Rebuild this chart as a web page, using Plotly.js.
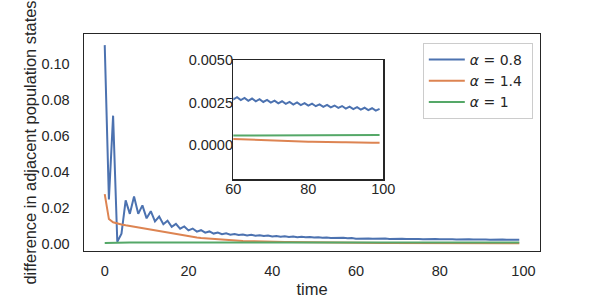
<!DOCTYPE html>
<html>
<head>
<meta charset="utf-8">
<script src="https://cdn.plot.ly/plotly-3.0.1.min.js"></script>
<style>html,body{margin:0;padding:0;background:#fff;}#chart{width:600px;height:298px;}</style>
</head>
<body>
<div id="chart"></div>
<script>
// time steps
const time = [0,1,2,3,4,5,6,7,8,9,10,11,12,13,14,15,16,17,18,19,20,21,22,23,24,25,26,27,28,29,30,31,32,33,34,35,36,37,38,39,40,41,42,43,44,45,46,47,48,49,50,51,52,53,54,55,56,57,58,59,60,61,62,63,64,65,66,67,68,69,70,71,72,73,74,75,76,77,78,79,80,81,82,83,84,85,86,87,88,89,90,91,92,93,94,95,96,97,98,99];

// alpha = 0.8
const alpha08 = [0.1105,0.0245,0.0712,0.0010,0.0055,0.0240,0.0165,0.0262,0.0165,0.0212,
0.0140,0.0180,0.0123,0.0150,0.0107,0.0127,0.0093,0.0109,0.0082,0.0095,
0.0073,0.0083,0.0066,0.0074,0.0060,0.0067,0.0055,0.0061,0.0052,0.0057,
0.0049,0.0053,0.0047,0.0050,0.0045,0.0048,0.0043,0.0046,0.0041,0.0044,
0.00388,0.00410,0.00376,0.00396,0.00364,0.00382,0.00352,0.00370,0.00340,0.00358,
0.00329,0.00346,0.00318,0.00335,0.00308,0.00324,0.00298,0.00314,0.00289,0.00303,
0.00269,0.00282,0.00265,0.00278,0.00261,0.00274,0.00258,0.00270,0.00254,0.00266,
0.00250,0.00262,0.00246,0.00258,0.00243,0.00254,0.00239,0.00251,0.00236,0.00247,
0.00232,0.00244,0.00229,0.00240,0.00225,0.00237,0.00222,0.00233,0.00219,0.00230,
0.00215,0.00227,0.00212,0.00223,0.00209,0.00220,0.00206,0.00217,0.00203,0.00213];

// alpha = 1.4
const alpha14 = [0.0275,0.0136,0.0118,0.0110,0.0106,0.0101,0.0097,0.0093,0.0089,0.0085,
0.0081,0.0076,0.0071,0.0066,0.0061,0.0057,0.0053,0.0049,0.0045,0.0042,
0.0039,0.0036,0.0033,0.0030,0.0028,0.0026,0.0024,0.0022,0.0020,0.0019,
0.0017,0.0016,0.0015,0.0014,0.0013,0.0012,0.00115,0.0011,0.00104,0.00098,
0.00093,0.00089,0.00084,0.00080,0.00076,0.00072,0.00069,0.00066,0.00063,0.00060,
0.00057,0.00055,0.00052,0.00050,0.00048,0.00046,0.00044,0.00042,0.00040,0.00038,
0.00037,0.00036,0.00035,0.00034,0.00033,0.00032,0.00031,0.00030,0.00029,0.00028,
0.00028,0.00027,0.00026,0.00025,0.00025,0.00024,0.00023,0.00023,0.00022,0.00022,
0.00021,0.00021,0.00020,0.00020,0.00019,0.00019,0.00018,0.00018,0.00018,0.00017,
0.00017,0.00016,0.00016,0.00016,0.00015,0.00015,0.00015,0.00014,0.00014,0.00014];

// alpha = 1
const alpha1 = [0.00030,0.00040,0.00045,0.00048,0.00050,0.00050,0.00050,0.00051,0.00051,0.00051,
0.00051,0.00052,0.00052,0.00052,0.00052,0.00052,0.00052,0.00053,0.00053,0.00053,
0.00053,0.00053,0.00053,0.00053,0.00054,0.00054,0.00054,0.00054,0.00054,0.00054,
0.00054,0.00054,0.00055,0.00055,0.00055,0.00055,0.00055,0.00055,0.00055,0.00055,
0.00055,0.00055,0.00055,0.00056,0.00056,0.00056,0.00056,0.00056,0.00056,0.00056,
0.00056,0.00056,0.00056,0.00056,0.00056,0.00056,0.00057,0.00057,0.00057,0.00057,
0.00057,0.00057,0.00057,0.00057,0.00057,0.00057,0.00058,0.00058,0.00058,0.00058,
0.00058,0.00058,0.00058,0.00058,0.00058,0.00058,0.00059,0.00059,0.00059,0.00059,
0.00059,0.00059,0.00059,0.00059,0.00059,0.00059,0.00060,0.00060,0.00060,0.00060,
0.00060,0.00060,0.00060,0.00060,0.00060,0.00060,0.00060,0.00060,0.00060,0.00060];

const seriesNames = ['<i>α</i> = 0.8&nbsp;', '<i>α</i> = 1.4&nbsp;', '<i>α</i> = 1&nbsp;'];
const mainXTicks = [0, 20, 40, 60, 80, 100];
const mainYTicks = [0, 0.02, 0.04, 0.06, 0.08, 0.10];
const insetXTicks = [60, 80, 100];
const insetYTicks = [0, 0.0025, 0.005];
const insetYLabels = ['0.0000', '0.0025', '0.0050'];

const colors = ['#4C72B0', '#DD8452', '#55A868'];
const series = [alpha08, alpha14, alpha1];

const traces = [];
series.forEach((s, i) => {
  traces.push({x: time, y: s, type: 'scatter', mode: 'lines', name: seriesNames[i],
    line: {color: colors[i], width: 2}, xaxis: 'x', yaxis: 'y'});
});
series.forEach((s, i) => {
  traces.push({x: time, y: s, type: 'scatter', mode: 'lines', showlegend: false,
    line: {color: colors[i], width: 2}, xaxis: 'x2', yaxis: 'y2'});
});

const font = {family: '"Liberation Sans", Arial, sans-serif', size: 14.5, color: '#262626'};
const axisBase = {showline: true, mirror: true, linecolor: '#262626', linewidth: 1.4,
  showgrid: false, zeroline: false, ticks: '', tickfont: font};

const layout = {
  width: 600, height: 298,
  margin: {l: 84, r: 60, t: 34, b: 47, pad: 0},
  paper_bgcolor: '#fff', plot_bgcolor: '#fff',
  font: font,
  showlegend: true,
  legend: {x: 0.743, y: 0.9585, xanchor: 'left', yanchor: 'top',
    bordercolor: '#cccccc', borderwidth: 1, bgcolor: '#fff', itemwidth: 36,
    font: {family: '"DejaVu Sans", sans-serif', size: 14, color: '#262626'}},
  xaxis: Object.assign({}, axisBase, {domain: [0, 1], range: [-4.95, 103.95], tickvals: mainXTicks,
    ticklabelstandoff: 6, anchor: 'y',
    title: {text: 'time', font: {family: font.family, size: 16.5, color: '#262626'}, standoff: 6}}),
  yaxis: Object.assign({}, axisBase, {domain: [0, 1], range: [-0.0042, 0.1167], tickvals: mainYTicks,
    tickformat: '.2f', ticklabelstandoff: 10, anchor: 'x',
    title: {text: 'difference in adjacent population states', font: {family: font.family, size: 16.4, color: '#262626'}, standoff: 0}}),
  xaxis2: Object.assign({}, axisBase, {domain: [0.3274, 0.6564], range: [60, 100], tickvals: insetXTicks,
    ticklabelstandoff: -4, anchor: 'y2'}),
  yaxis2: Object.assign({}, axisBase, {domain: [0.3304, 0.880], range: [-0.002, 0.005], tickvals: insetYTicks,
    ticktext: insetYLabels, ticklabelstandoff: -4, anchor: 'x2'})
};

Plotly.newPlot('chart', traces, layout, {staticPlot: true, displayModeBar: false});
</script>
</body>
</html>
